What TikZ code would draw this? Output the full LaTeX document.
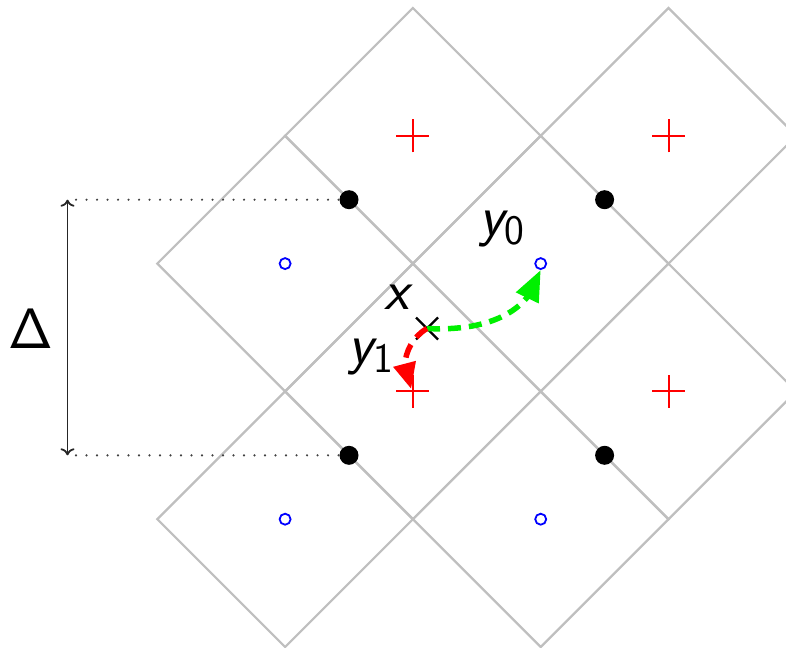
\documentclass[tikz,border=0pt]{standalone}
\usetikzlibrary{arrows.meta,bending}
\begin{document}
\begin{tikzpicture}[x=1pt,y=1pt,
  gridline/.style={draw=black!25,line width=2.2pt},
  reddot/.style={draw=red,line width=2pt},
  bluec/.style={circle,draw=blue,line width=1.8pt,inner sep=0pt,minimum size=11pt},
  blackdot/.style={circle,fill=black,inner sep=0pt,minimum size=19pt},
  lbl/.style={inner sep=0pt,font=\fontsize{57}{60}\selectfont\sffamily},
  dotline/.style={draw=black!75,line width=2.4pt,line cap=round,dash pattern=on 0pt off 10.5pt},
  greenarr/.style={draw={rgb,255:red,0;green,240;blue,0},line width=5.5pt,dash pattern=on 13pt off 8pt,
     -{Triangle[length=31pt,width=24pt,fill={rgb,255:red,0;green,240;blue,0}]}},
  redarr/.style={draw=red,line width=5.5pt,dash pattern=on 14pt off 9pt,
     -{Triangle[length=26pt,width=22pt,fill=red]}}
]
\useasboundingbox (0,0) rectangle (786,-647);
\def\h{127.8}
% lattice centres
\coordinate (r1) at (412.9,-135.8);
\coordinate (r2) at (668.5,-135.8);
\coordinate (r3) at (412.9,-391.4);
\coordinate (r4) at (668.5,-391.4);
\coordinate (b1) at (285.1,-263.6);
\coordinate (b2) at (540.7,-263.6);
\coordinate (b3) at (285.1,-519.2);
\coordinate (b4) at (540.7,-519.2);
% diamonds
\foreach \c in {r1,r2,r3,r4,b1,b2,b3,b4}
  \draw[gridline] (\c) ++(-\h,0) -- ++(\h,\h) -- ++(\h,-\h) -- ++(-\h,-\h) -- cycle;
% red plus marks
\foreach \c in {r1,r2,r3,r4}
  \draw[reddot] (\c) ++(-16.5,0) -- ++(33,0) (\c) ++(0,-16.5) -- ++(0,33);
% blue circles
\node[bluec] (c1) at (b1) {};
\node[bluec] (c2) at (b2) {};
\node[bluec] (c3) at (b3) {};
\node[bluec] (c4) at (b4) {};
% black dots
\node[blackdot] (d1) at (349.0,-199.7) {};
\node[blackdot] (d2) at (604.6,-199.7) {};
\node[blackdot] (d3) at (349.0,-455.3) {};
\node[blackdot] (d4) at (604.6,-455.3) {};
% Delta dimension
\coordinate (t1) at (76,-199.7);
\coordinate (t2) at (76,-455.3);
\draw[dotline] (t1) -- (d1.west);
\draw[dotline] (t2) -- (d3.west);
\coordinate (a1) at (67.5,-199.7);
\coordinate (a2) at (67.5,-455.3);
\draw[line width=1.8pt,black!85,{To[length=7pt,width=14pt]}-{To[length=7pt,width=14pt]}] (a1) -- (a2);
\node[lbl] (delta) at (31,-329) {Δ};
% point x
\coordinate (xm) at (427,-328.5);
\draw[line width=2.4pt] (xm) ++(-11,-11) -- ++(22,22) (xm) ++(-11,11) -- ++(22,-22);
\node[lbl] (xl) at (397,-297) {\itshape x};
% arrows
\draw[greenarr] (xm) to[out=-3,in=-104] (c2.south);
\draw[redarr,shorten >=3pt] (xm) to[out=-150,in=128] (r3);
% labels
\node[lbl] (y0) at (502,-229) {\itshape y\raisebox{-0.16em}{\upshape\fontsize{42}{42}\selectfont 0}};
\node[lbl] (y1) at (371,-357) {\itshape y\raisebox{-0.16em}{\upshape\fontsize{42}{42}\selectfont 1}};
\end{tikzpicture}
\end{document}
